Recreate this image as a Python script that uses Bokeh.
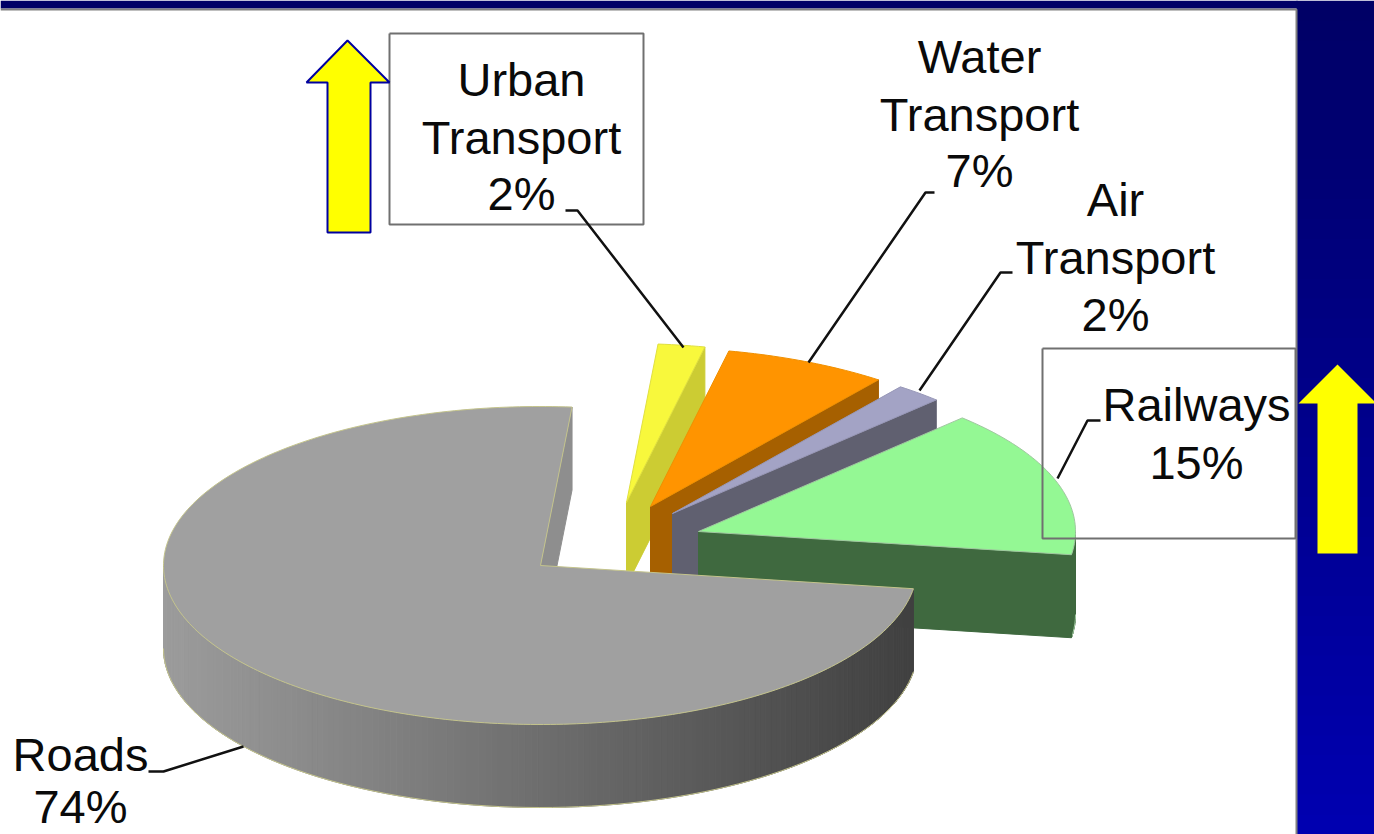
import math
from bokeh.plotting import figure
from bokeh.models import Range1d
from bokeh.core.properties import value
from bokeh.embed import file_html
from bokeh.resources import INLINE

# ---- data
slice_names = ["Urban Transport", "Water Transport", "Air Transport", "Railways", "Roads"]
shares = [2, 7, 2, 15, 74]

# ---- appearance of each slice (explosion apex on screen, colours)
apex_x = [626, 650, 672, 698, 540]
apex_y = [502, 506, 513, 531, 565]
top_colors = ["#F8F83C", "#FF9400", "#A3A3C5", "#94F894", "#A0A0A0"]
side_colors = ["#CCCC33", "#A66000", "#606070", "#3F693F", "#8E8E8E"]
edge_colors = ["#E0E040", "#F09000", "#9898B8", "#A0C8A0", "#C4C48C"]

START_DEG = 4.8
RX, RY, DEPTH = 377, 159, 83

FONT = value("Liberation Sans")
FSIZE = "47px"
TEXT_SHIFT = -18

label_lines = [
    ("Urban", 521, 97), ("Transport", 521, 155), ("2%", 521, 211),
    ("Water", 979, 74), ("Transport", 979, 132), ("7%", 979, 188),
    ("Air", 1115, 217), ("Transport", 1115, 275), ("2%", 1115, 332),
    ("Railways", 1196, 422), ("15%", 1196, 480),
    ("Roads", 80, 772), ("74%", 80, 824),
]
leaders = [
    ([565, 577, 683], [210, 210, 347]),
    ([934, 925, 808], [192, 192, 362]),
    ([1012, 1000, 919], [272, 272, 390]),
    ([1100, 1087, 1057], [420, 420, 478]),
    ([148, 163, 243], [771, 771, 746]),
]
boxes = [(389, 33, 643, 224), (1042, 348, 1295, 538)]
arrows = [
    ([347, 389, 370, 370, 327, 327, 306], [40, 82, 82, 232, 232, 82, 82]),
    ([1337, 1376, 1357, 1357, 1317, 1317, 1298], [364, 403, 403, 553, 553, 403, 403]),
]
arrow_outlines = ["#0000A0", None]

p = figure(width=1374, height=834, x_range=Range1d(0, 1374), y_range=Range1d(834, 0),
           x_axis_type=None, y_axis_type=None, toolbar_location=None,
           output_backend="svg", min_border=0, outline_line_color=None,
           background_fill_color="white", border_fill_color="white")
p.grid.visible = False

# ---- blue slide background: right band and top strip
bands = 42
for i in range(bands):
    f = i / (bands - 1)
    y0 = 834 * i / bands
    y1 = 834 * (i + 1) / bands + 1
    col = "#0000%02X" % round(0x66 + f * (0xB0 - 0x66))
    p.quad(left=1296, right=1374, top=y0, bottom=y1, fill_color=col, line_color=None)
p.quad(left=0, right=1297, top=0, bottom=8, fill_color="#000066", line_color=None)
p.line([0, 1296, 1296], [9, 9, 834], line_color="#808080", line_width=2)


def rim(ax, ay, deg, dy=0):
    t = math.radians(deg)
    return ax + RX * math.sin(t), ay - RY * math.cos(t) + dy


def gray_at(x):
    f = max(0.0, min(1.0, (x - 162) / (914 - 162)))
    g = round(0x9C + f * (0x40 - 0x9C))
    return "#%02X%02X%02X" % (g, g, g)


# ---- slices, back to front
angle = START_DEG
total = sum(shares)
for i, share in enumerate(shares):
    a0, a1 = angle, angle + 360 * share / total
    angle = a1
    ax, ay = apex_x[i], apex_y[i]
    is_roads = slice_names[i] == "Roads"

    # outer wall (only the front half can be seen)
    lo, hi = max(a0, 90), min(a1, 270)
    if lo < hi:
        step = 1.0
        d = lo
        while d < hi:
            e = min(d + step, hi)
            x0, y0 = rim(ax, ay, d)
            x1, y1 = rim(ax, ay, e)
            col = gray_at((x0 + x1) / 2) if is_roads else side_colors[i]
            p.patch([x0, x1, x1, x0], [y0, y1, y1 + DEPTH, y0 + DEPTH],
                    fill_color=col, line_color=col, line_width=1)
            d = e
        n = int((hi - lo) / 2) + 1
        pts = [rim(ax, ay, lo + (hi - lo) * k / n, DEPTH) for k in range(n + 1)]
        p.line([q[0] for q in pts], [q[1] for q in pts], line_color=edge_colors[i], line_width=1)

    # cut face at the end of the slice
    x1, y1 = rim(ax, ay, a1)
    p.patch([ax, x1, x1, ax], [ay, y1, y1 + DEPTH, ay + DEPTH],
            fill_color=side_colors[i], line_color=side_colors[i])

    # top face
    n = max(4, int(a1 - a0))
    pts = [rim(ax, ay, a0 + (a1 - a0) * k / n) for k in range(n + 1)]
    p.patch([ax] + [q[0] for q in pts], [ay] + [q[1] for q in pts],
            fill_color=top_colors[i], line_color=edge_colors[i], line_width=1)

# ---- callout boxes, arrows, leaders, text
for x0, y0, x1, y1 in boxes:
    p.line([x0, x1, x1, x0, x0], [y0, y0, y1, y1, y0], line_color="#707070", line_width=2)

for (xs, ys), outline in zip(arrows, arrow_outlines):
    p.patch(xs, ys, fill_color="#FFFF00", line_color=outline, line_width=2)

for xs, ys in leaders:
    p.line(xs, ys, line_color="#111111", line_width=2.5)

p.text(x=[t[1] for t in label_lines], y=[t[2] + TEXT_SHIFT for t in label_lines],
       text=[t[0] for t in label_lines], text_font=FONT, text_font_size=FSIZE,
       text_color="#0A0A0A", text_align="center", text_baseline="alphabetic")

open("out.html", "w").write(file_html(p, INLINE))
